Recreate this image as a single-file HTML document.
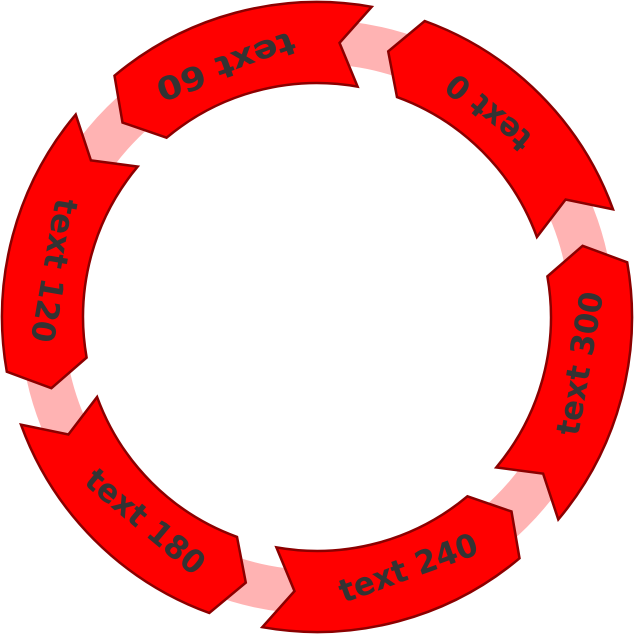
<!DOCTYPE html>
<html><head><meta charset="utf-8"><style>html,body{margin:0;padding:0;background:#fff;}svg{display:block}</style></head>
<body>
<svg id="s" width="634" height="634" viewBox="0 0 634 634" xmlns="http://www.w3.org/2000/svg">
<circle cx="317" cy="317" r="275" fill="none" stroke="#ffb3b3" stroke-width="44"/>
<g id="g"></g>
</svg>
<script>
var cx=317,cy=317,R=315,r=234,m=275,g=document.getElementById('g'),ns='http://www.w3.org/2000/svg';
function P(rad,deg){var t=deg*Math.PI/180;return (cx+rad*Math.cos(t)).toFixed(1)+','+(cy-rad*Math.sin(t)).toFixed(1);}
var labels=['text 0','text 60','text 120','text 180','text 240','text 300'];
for(var k=0;k<6;k++){
 var a=20+60*k,b=a+50,c=b+5,n=a+5.3;
 var d='M'+P(R,a)+' A'+R+','+R+' 0 0 0 '+P(R,b)+' L'+P(m,c)+' L'+P(r,b)+' A'+r+','+r+' 0 0 1 '+P(r,a)+' L'+P(m,n)+' Z';
 var p=document.createElementNS(ns,'path');p.setAttribute('d',d);p.setAttribute('fill','#ff0000');p.setAttribute('stroke','#8b0000');p.setAttribute('stroke-width','2.5');p.setAttribute('stroke-linejoin','miter');g.appendChild(p);
 var tm=267,tc=a+30,t=tc*Math.PI/180,x=cx+tm*Math.cos(t),y=cy-tm*Math.sin(t);
 var tx=document.createElementNS(ns,'text');
 tx.setAttribute('x',0);tx.setAttribute('y',0);
 tx.setAttribute('transform','translate('+x.toFixed(1)+','+y.toFixed(1)+') rotate('+(270-tc)+')');
 tx.setAttribute('text-anchor','middle');tx.setAttribute('dominant-baseline','central');
 tx.setAttribute('font-family','DejaVu Sans Condensed, DejaVu Sans, sans-serif');
 tx.setAttribute('font-weight','bold');
 tx.setAttribute('font-size','32');tx.setAttribute('fill','#333');
 tx.setAttribute('textLength',k==0?'100':'145');tx.setAttribute('lengthAdjust','spacingAndGlyphs');
 tx.textContent=labels[k];g.appendChild(tx);
}
</script>
</body></html>
